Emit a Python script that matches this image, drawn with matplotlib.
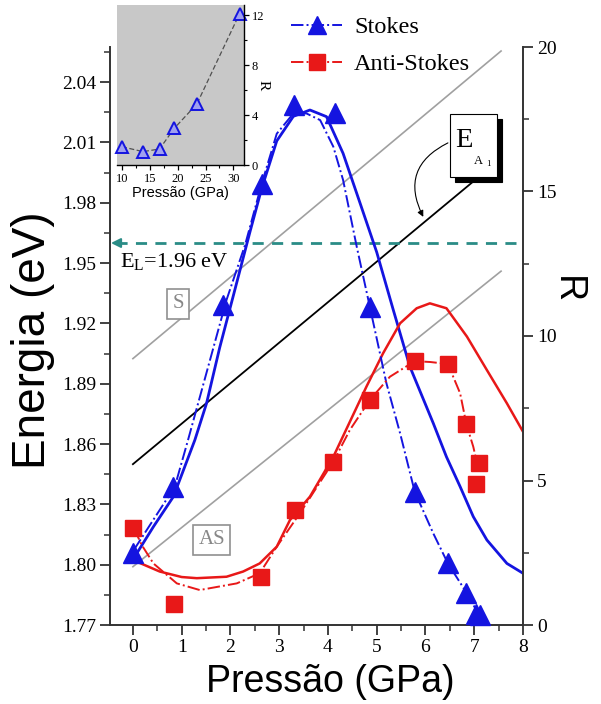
import matplotlib
matplotlib.use('Agg')
import matplotlib.pyplot as plt
from matplotlib.patches import Rectangle
from matplotlib.lines import Line2D
from matplotlib.ticker import MultipleLocator, FormatStrFormatter

plt.rcParams['font.family'] = ['Liberation Serif', 'DejaVu Serif']
plt.rcParams['mathtext.fontset'] = 'custom'
plt.rcParams['mathtext.rm'] = 'Liberation Serif'
plt.rcParams['mathtext.it'] = 'Liberation Serif:italic'

# ---- data ----
# measured points (R, right axis)
stokes_p = [0.0, 0.83, 1.85, 2.64, 3.31, 4.14, 4.86, 5.78, 6.46, 6.84, 7.04, 7.12]
stokes_r = [2.48, 4.79, 11.07, 15.26, 18.0, 17.7, 11.0, 4.61, 2.13, 1.12, 0.38, 0.33]
anti_p = [0.0, 0.84, 2.63, 3.32, 4.11, 4.86, 5.78, 6.46, 6.84, 7.10, 7.04]
anti_r = [3.35, 0.73, 1.67, 3.98, 5.65, 7.79, 9.13, 9.03, 6.94, 5.62, 4.88]

# solid fit curves
stokes_fit_p = [0.08, 0.42, 0.83, 1.27, 1.51, 1.78, 2.06, 2.4, 2.64, 2.95, 3.29, 3.63, 3.97,
                4.31, 4.66, 5.0, 5.34, 5.68, 6.16, 6.43, 6.71, 6.98, 7.26, 7.67, 8.0]
stokes_fit_r = [2.48, 3.4, 4.44, 6.4, 7.67, 9.6, 11.4, 13.6, 15.1, 16.75, 17.6, 17.82, 17.59,
                16.32, 14.59, 12.9, 10.9, 8.94, 6.98, 5.82, 4.79, 3.75, 2.94, 2.13, 1.79]
anti_fit_p = [0.08, 0.55, 1.0, 1.31, 1.92, 2.26, 2.6, 2.95, 3.22, 3.63, 4.11, 4.79, 5.13,
              5.48, 5.82, 6.09, 6.43, 6.85, 7.26, 7.67, 8.0]
anti_fit_r = [2.19, 1.85, 1.66, 1.62, 1.67, 1.85, 2.13, 2.71, 3.63, 4.44, 5.82, 8.25, 9.4,
              10.44, 10.96, 11.13, 10.96, 9.98, 8.82, 7.67, 6.69]

# dash-dot guide curves
stokes_dd_p = [0.02, 0.86, 1.13, 1.92, 2.3, 2.64, 2.95, 3.29, 3.56, 3.84, 4.11, 4.31, 4.59,
               4.86, 5.2, 5.48, 5.78, 6.16, 6.46, 6.84, 7.08]
stokes_dd_r = [2.6, 4.79, 6.4, 11.25, 13.15, 15.26, 17.0, 17.7, 17.7, 17.47, 16.55, 15.4, 13.09,
               11.0, 8.36, 6.63, 4.61, 3.17, 2.13, 1.12, 0.4]
anti_dd_p = [0.02, 0.18, 0.42, 0.9, 1.37, 2.13, 2.6, 2.95, 3.43, 4.11, 4.45, 4.86, 5.27, 5.78,
             6.1, 6.46, 6.71, 6.84, 6.98, 7.09]
anti_dd_r = [3.35, 2.77, 2.13, 1.44, 1.21, 1.44, 1.79, 2.71, 3.88, 5.65, 6.75, 7.79, 8.59, 9.13,
             9.1, 9.03, 8.02, 6.94, 6.17, 5.36]

# straight energy lines (left axis)
s_line_p, s_line_e = [0.0, 7.55], [1.9025, 2.0555]
a1_line_p, a1_line_e = [0.0, 7.0], [1.85, 1.991]
as_line_p, as_line_e = [0.0, 7.55], [1.799, 1.946]
E_L = 1.96

# inset
inset_p = [10.0, 13.76, 16.74, 19.37, 23.44, 31.1]
inset_r = [1.46, 1.07, 1.28, 2.93, 4.88, 12.1]

blue = '#1414e0'
red = '#e81818'
teal = '#2a8c86'
gray = '#a0a0a0'

W, H = 601, 704
fig = plt.figure(figsize=(W / 100, H / 100), dpi=100)


def fx(px):
    return px / W


def fy(py):
    return 1 - py / H


ax = fig.add_axes([fx(110), fy(625), fx(523) - fx(110), fy(47) - fy(625)])
ax2 = ax.twinx()

# energy axis
ax.plot(s_line_p, s_line_e, color=gray, lw=1.2)
ax.plot(as_line_p, as_line_e, color=gray, lw=1.2)
ax.plot(a1_line_p, a1_line_e, color='black', lw=1.3)
ax.plot([-0.35, 8], [E_L, E_L], color=teal, lw=2, ls=(0, (4, 3)))
ax.annotate('', xy=(-0.45, E_L), xytext=(-0.25, E_L),
            arrowprops=dict(arrowstyle='-|>', color=teal, lw=1.5, mutation_scale=14,
                            shrinkA=0, shrinkB=0))
ax.text(-0.27, 1.948, r'E$_\mathrm{L}$=1.96 eV', fontsize=16, va='baseline')
ax.text(0.93, 1.9297, 'S', fontsize=15, color='#888888', ha='center', va='center',
        bbox=dict(boxstyle='square,pad=0.25', fc='white', ec='#909090', lw=1.2))
ax.text(1.62, 1.8123, 'AS', fontsize=15, color='#888888', ha='center', va='center',
        bbox=dict(boxstyle='square,pad=0.25', fc='white', ec='#909090', lw=1.2))
ax.annotate('', xy=(5.955, 1.973), xytext=(6.46, 2.0098),
            arrowprops=dict(arrowstyle='-|>', connectionstyle='arc3,rad=0.5', color='black',
                            lw=0.8, mutation_scale=9, shrinkA=0, shrinkB=0))

ax.set_xlim(-0.47, 8)
ax.set_ylim(1.77, 2.0575)
ax.xaxis.set_major_locator(MultipleLocator(1))
ax.xaxis.set_minor_locator(MultipleLocator(0.5))
ax.yaxis.set_major_locator(MultipleLocator(0.03))
ax.yaxis.set_minor_locator(MultipleLocator(0.015))
ax.yaxis.set_major_formatter(FormatStrFormatter('%.2f'))

# R axis
ax2.plot(stokes_fit_p, stokes_fit_r, color=blue, lw=2)
ax2.plot(anti_fit_p, anti_fit_r, color=red, lw=1.8)
ax2.plot(stokes_dd_p, stokes_dd_r, color=blue, lw=1.4, ls='-.')
ax2.plot(anti_dd_p, anti_dd_r, color=red, lw=1.4, ls='-.')
ax2.plot(stokes_p, stokes_r, ls='none', marker='^', ms=14, color=blue, clip_on=False)
ax2.plot(anti_p, anti_r, ls='none', marker='s', ms=12, color=red, clip_on=False)
ax2.set_ylim(0, 20)
ax2.yaxis.set_major_locator(MultipleLocator(5))
ax2.yaxis.set_minor_locator(MultipleLocator(2.5))

for s in ['top', 'right']:
    ax.spines[s].set_visible(False)
for s in ['top', 'left', 'bottom']:
    ax2.spines[s].set_visible(False)
for a in (ax, ax2):
    for sp in a.spines.values():
        sp.set_linewidth(1.4)
        sp.set_color('#333333')
    a.tick_params(which='major', direction='out', length=7, width=1.3, labelsize=14,
                  color='#333333', pad=3)
    a.tick_params(which='minor', direction='out', length=4, width=1.1, color='#333333')
ax.yaxis.set_ticks_position('left')
ax.xaxis.set_ticks_position('bottom')

# E_A1 box with shadow
fig.add_artist(Rectangle((fx(455), fy(182)), 47 / W, 63 / H, transform=fig.transFigure,
                         fc='black', ec='black', lw=0.8))
fig.add_artist(Rectangle((fx(450), fy(177)), 47 / W, 63 / H, transform=fig.transFigure,
                         fc='white', ec='black', lw=0.8))
fig.text(fx(455), fy(147), 'E', fontsize=20.5, va='baseline')
fig.text(fx(474), fy(164), 'A', fontsize=9, va='baseline')
fig.text(fx(486), fy(166.5), '1', fontsize=6.5, va='baseline')

# legend
handles = [Line2D([], [], color=blue, ls='-.', lw=1.4, marker='^', ms=13),
           Line2D([], [], color=red, ls='-.', lw=1.4, marker='s', ms=11)]
fig.legend(handles, ['Stokes', 'Anti-Stokes'], loc='upper left',
           bbox_to_anchor=(fx(291), fy(16)), frameon=False, fontsize=17.5, handlelength=2.1,
           handletextpad=0.5, labelspacing=0.62, borderpad=0, borderaxespad=0)

# axis labels
sans = 'Liberation Sans'
fig.text(fx(33), fy(340), 'Energia (eV)', rotation=90, family=sans, fontsize=33,
         ha='center', va='center')
fig.text(fx(330), fy(682), 'Pressão (GPa)', family=sans, fontsize=27, ha='center', va='center')
fig.text(fx(567), fy(290), 'R', rotation=270, family=sans, fontsize=27, ha='center',
         va='center')

# inset
axi = fig.add_axes([fx(117), fy(165), (244 - 117) / W, (165 - 5) / H])
axi.set_facecolor('#c8c8c8')
axi.plot(inset_p, inset_r, ls=(0, (4, 2)), color='#505050', lw=0.9, marker='^', ms=8,
         mfc='#a0a0f0', mec=blue, mew=1.4, clip_on=False)
axi.set_xlim(9.1, 31.9)
axi.set_ylim(0, 12.8)
axi.xaxis.set_major_locator(MultipleLocator(5))
axi.xaxis.set_minor_locator(MultipleLocator(2.5))
axi.yaxis.set_major_locator(MultipleLocator(4))
axi.yaxis.set_minor_locator(MultipleLocator(2))
axi.yaxis.tick_right()
axi.yaxis.set_label_position('right')
axi.spines['left'].set_visible(False)
axi.spines['top'].set_visible(False)
for sp in ('right', 'bottom'):
    axi.spines[sp].set_linewidth(1.0)
axi.tick_params(which='major', direction='out', length=3.5, width=0.9, labelsize=9, pad=2)
axi.tick_params(which='minor', direction='out', length=2, width=0.8)
axi.set_xlabel('Pressão (GPa)', family=sans, fontsize=10.5, labelpad=1)
axi.set_ylabel('R', rotation=270, fontsize=11, labelpad=4)

fig.savefig('out.png', dpi=100)
